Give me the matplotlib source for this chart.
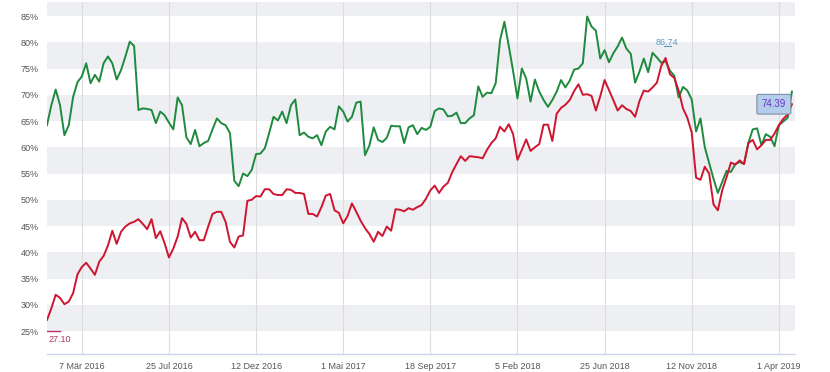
import numpy as np
import pandas as pd
import matplotlib
matplotlib.use('Agg')
import matplotlib.pyplot as plt

# weekly values, starting Mon 11 Jan 2016
start_date = '2016-01-11'

green = [64.2, 68.0, 71.0, 68.0, 62.3, 64.2, 69.6, 72.4, 73.5, 76.0,
         72.2, 73.8, 72.5, 76.0, 77.3, 76.0, 72.9, 74.7, 77.3, 80.1,
         79.3, 67.1, 67.4, 67.3, 67.1, 64.6, 66.8, 66.1, 64.7, 63.4,
         69.5, 68.0, 61.9, 60.6, 63.3, 60.2, 60.8, 61.2, 63.4, 65.5,
         64.6, 64.2, 62.7, 53.6, 52.6, 55.0, 54.5, 55.7, 58.7, 58.8,
         59.8, 62.7, 65.8, 65.1, 66.8, 64.6, 68.0, 69.1, 62.3, 62.8,
         62.0, 61.7, 62.3, 60.4, 63.0, 63.9, 63.4, 67.8, 66.8, 64.9,
         65.8, 68.5, 68.7, 58.5, 60.3, 63.8, 61.4, 61.0, 61.8, 64.1,
         64.0, 64.0, 60.8, 63.8, 64.2, 62.5, 63.7, 63.3, 63.9, 66.9,
         67.4, 67.2, 65.9, 66.0, 66.6, 64.6, 64.6, 65.5, 66.1, 71.6,
         69.6, 70.4, 70.3, 72.2, 80.4, 83.9, 79.3, 74.5, 69.3, 75.0,
         73.1, 68.7, 72.9, 70.6, 69.0, 67.7, 69.0, 70.6, 72.8, 71.4,
         72.7, 74.8, 75.0, 76.0, 84.9, 83.0, 82.2, 76.9, 78.5, 76.2,
         77.9, 79.2, 80.9, 78.8, 77.8, 72.3, 74.4, 76.9, 74.3, 78.0,
         77.1, 76.1, 76.4, 74.6, 73.6, 69.5, 71.5, 70.8, 69.1, 63.0,
         65.5, 60.0, 57.0, 54.0, 51.3, 53.4, 55.5, 55.3, 56.8, 57.2,
         56.8, 60.8, 63.4, 63.6, 60.4, 62.5, 62.0, 60.2, 64.2, 64.9,
         65.6, 70.6]

red = [27.1, 29.3, 31.9, 31.3, 30.1, 30.6, 32.2, 35.8, 37.2, 38.0,
       36.9, 35.7, 38.2, 39.3, 41.3, 44.1, 41.6, 43.9, 44.9, 45.5,
       45.8, 46.3, 45.4, 44.4, 46.3, 42.7, 44.0, 41.7, 39.0, 40.7,
       43.0, 46.5, 45.4, 42.8, 43.9, 42.3, 42.3, 44.9, 47.3, 47.7,
       47.7, 45.8, 42.0, 40.9, 43.0, 43.2, 49.8, 50.0, 50.7, 50.6,
       52.0, 52.0, 51.1, 50.9, 50.9, 52.0, 51.9, 51.3, 51.3, 51.1,
       47.3, 47.3, 46.8, 48.6, 50.8, 51.1, 48.0, 47.5, 45.5, 46.9,
       49.3, 47.7, 46.0, 44.6, 43.5, 42.0, 43.9, 43.1, 44.9, 44.1,
       48.2, 48.1, 47.8, 48.4, 48.1, 48.6, 49.0, 50.2, 51.8, 52.7,
       51.3, 52.5, 53.2, 55.2, 56.8, 58.3, 57.4, 58.3, 58.2, 58.1,
       57.9, 59.5, 60.8, 61.7, 63.9, 63.0, 64.4, 62.5, 57.6, 59.5,
       61.5, 59.3, 60.0, 60.6, 64.3, 64.3, 61.2, 66.4, 67.5, 68.1,
       69.0, 70.7, 72.0, 70.0, 70.1, 69.8, 67.0, 69.7, 72.8, 70.9,
       69.0, 67.0, 68.0, 67.3, 66.9, 65.8, 68.8, 70.8, 70.6, 71.4,
       72.3, 75.5, 77.0, 73.9, 73.2, 70.8, 67.4, 65.6, 62.8, 54.2,
       53.8, 56.3, 55.0, 49.1, 48.0, 51.8, 54.3, 57.1, 56.7, 57.5,
       56.8, 60.8, 61.4, 59.6, 60.4, 61.4, 61.4, 62.6, 64.2, 65.4,
       66.2, 68.2]

tick_dates = ['2016-03-07', '2016-07-25', '2016-12-12', '2017-05-01', '2017-09-18',
              '2018-02-05', '2018-06-25', '2018-11-12', '2019-04-01']
tick_labels = ['7 Mär 2016', '25 Jul 2016', '12 Dez 2016', '1 Mai 2017', '18 Sep 2017',
               '5 Feb 2018', '25 Jun 2018', '12 Nov 2018', '1 Apr 2019']
y_ticks = [25, 30, 35, 40, 45, 50, 55, 60, 65, 70, 75, 80, 85]
bands = [(25, 30), (35, 40), (45, 50), (55, 60), (65, 70), (75, 80), (85, 90)]

min_label = '27.10'
peak_label = '86.74'
last_label = '74.39'

dates = pd.date_range(start_date, periods=len(green), freq='7D')

plt.rcParams['font.family'] = ['Liberation Sans', 'DejaVu Sans']

fig = plt.figure(figsize=(8.3, 3.72), dpi=100)
ax = fig.add_axes([0.0566, 0.0484, 0.9012, 0.9462])

# alternating grey bands
for lo, hi in bands:
    ax.axhspan(lo, hi, color='#eeeff2', lw=0, zorder=0)

for d in tick_dates:
    ax.axvline(pd.Timestamp(d), color='#dcdcdc', lw=0.8, zorder=1)

ax.plot(dates, green, color='#1e8a3e', lw=1.4, zorder=3)
ax.plot(dates, red, color='#cf1430', lw=1.4, zorder=4)

ax.set_ylim(20.62, 87.67)
ax.set_xlim(dates[0], dates[0] + pd.Timedelta(days=7 * 171.7))

ax.set_yticks(y_ticks)
ax.set_yticklabels([str(v) + '%' for v in y_ticks])
ax.set_xticks([pd.Timestamp(d) for d in tick_dates])
ax.set_xticklabels(tick_labels)
ax.tick_params(axis='both', length=0, labelsize=6.5, labelcolor='#555555')
ax.tick_params(axis='y', pad=6)
ax.tick_params(axis='x', pad=6)

for s in ['top', 'right', 'left']:
    ax.spines[s].set_visible(False)
ax.spines['bottom'].set_color('#ccd6eb')
ax.spines['bottom'].set_linewidth(1.0)

# min marker at the left edge
ax.plot([dates[0], dates[3]], [25, 25], color='#c0306a', lw=1.0, zorder=5)
ax.annotate(min_label, xy=(dates[0], 25), xytext=(1, -3), textcoords='offset points',
            ha='left', va='top', fontsize=6.5, color='#b8336a')

# peak label with short underline
ax.annotate(peak_label, xy=(dates[142], red[142]), xytext=(1, 11), textcoords='offset points',
            ha='center', va='center', fontsize=6.5, color='#5a9ac8')
ax.plot([dates[141] + pd.Timedelta(days=4), dates[143] + pd.Timedelta(days=2)],
        [79.2, 79.2], color='#5a9ac8', lw=0.8, zorder=5)

# last value label
ax.annotate(last_label, xy=(dates[-1], red[-1]), xytext=(-13, 0), textcoords='offset points',
            ha='center', va='center', fontsize=7, color='#6a2fd0', zorder=6,
            bbox=dict(boxstyle='round,pad=0.5,rounding_size=0.15', fc='#b4cde8',
                      ec='#7d8fa6', lw=0.8))

fig.savefig('out.png', dpi=100)
